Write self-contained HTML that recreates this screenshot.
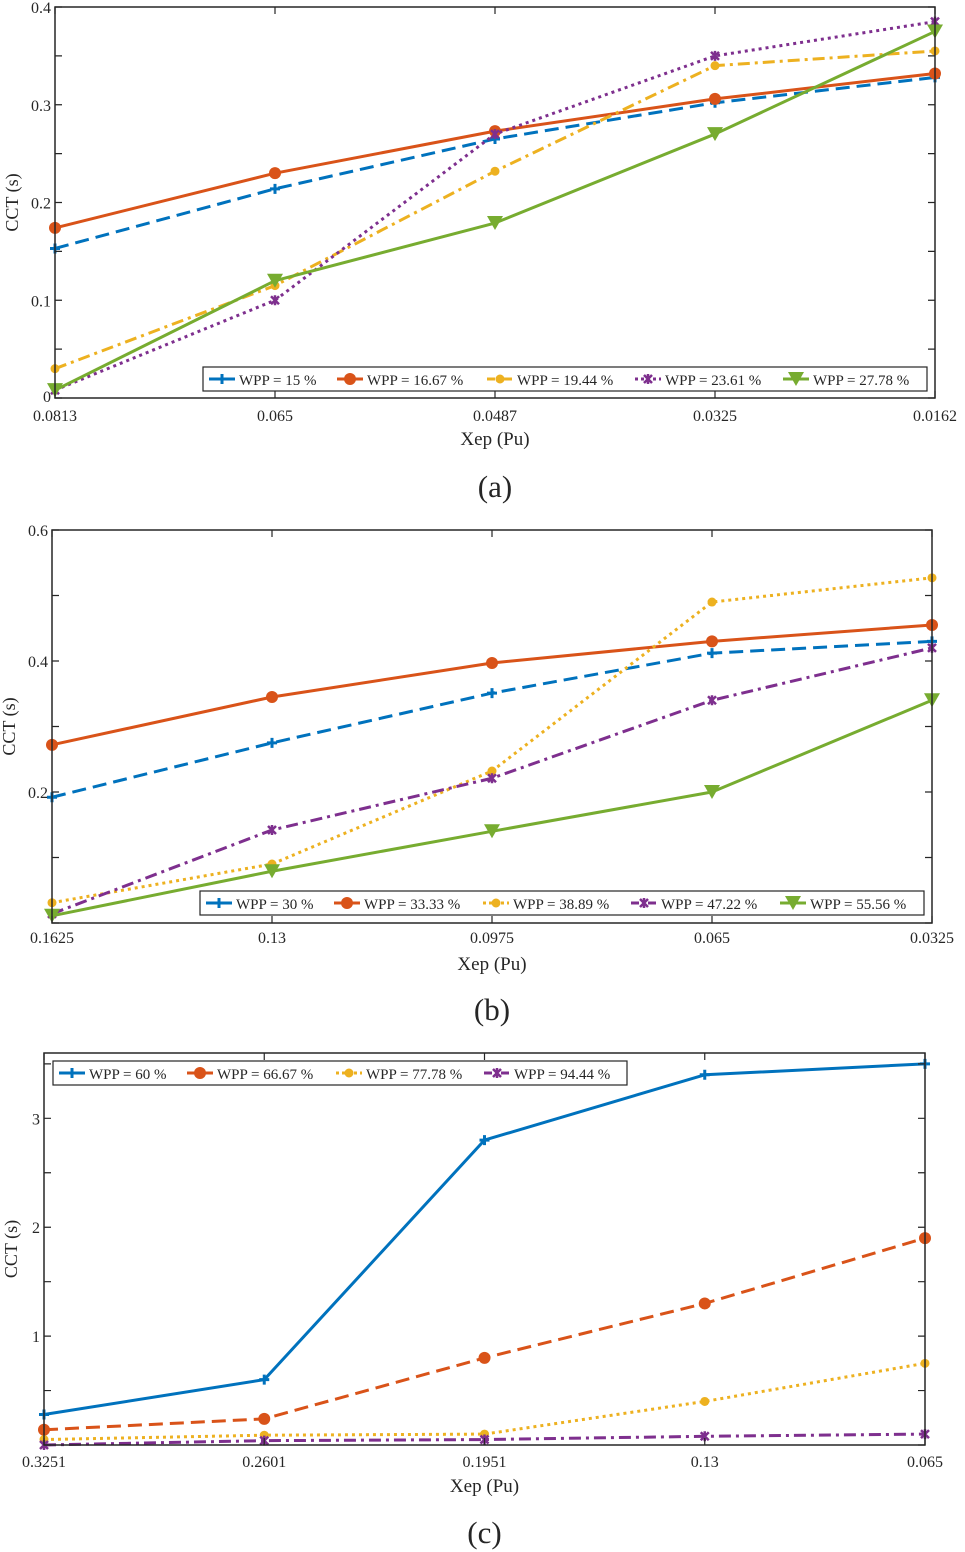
<!DOCTYPE html>
<html><head><meta charset="utf-8">
<style>
html,body{margin:0;padding:0;background:#fff;}
svg{display:block;}
text{font-family:"Liberation Serif",serif;fill:#262626;}
</style></head>
<body>
<svg id="fig" width="965" height="1552" viewBox="0 0 965 1552" xmlns="http://www.w3.org/2000/svg"></svg>
<script>
// Panel (a)
const catsA = ["0.0813","0.065","0.0487","0.0325","0.0162"];
const wpp15 = [0.153,0.214,0.265,0.302,0.328];
const wpp1667 = [0.174,0.230,0.273,0.306,0.332];
const wpp1944 = [0.030,0.115,0.232,0.340,0.355];
const wpp2361 = [0.008,0.100,0.270,0.350,0.385];
const wpp2778 = [0.008,0.120,0.179,0.270,0.375];
const yTicksA = ["0","0.1","0.2","0.3","0.4"];
// Panel (b)
const catsB = ["0.1625","0.13","0.0975","0.065","0.0325"];
const wpp30 = [0.192,0.275,0.351,0.412,0.430];
const wpp3333 = [0.272,0.345,0.397,0.430,0.455];
const wpp3889 = [0.031,0.090,0.232,0.490,0.527];
const wpp4722 = [0.014,0.142,0.221,0.340,0.420];
const wpp5556 = [0.011,0.079,0.140,0.200,0.340];
const yTicksB = ["0.2","0.4","0.6"];
// Panel (c)
const catsC = ["0.3251","0.2601","0.1951","0.13","0.065"];
const wpp60 = [0.28,0.60,2.80,3.40,3.50];
const wpp6667 = [0.14,0.24,0.80,1.30,1.90];
const wpp7778 = [0.05,0.09,0.10,0.40,0.75];
const wpp9444 = [0.00,0.04,0.05,0.08,0.10];
const yTicksC = ["1","2","3"];

const NS="http://www.w3.org/2000/svg";
const svg=document.getElementById('fig');
function mk(tag,attrs,parent){const e=document.createElementNS(NS,tag);for(const k in attrs)e.setAttribute(k,attrs[k]);(parent||svg).appendChild(e);return e;}
const C={blue:"#0072BD",orange:"#D95319",yellow:"#EDB120",purple:"#7E2F8E",green:"#77AC30"};
const DASH={solid:"",dash:"14,7",dot:"3,4",dashdot:"12,5,3,5"};

function marker(g,type,x,y,col){
  let m;
  if(type==='+'){m=mk('path',{d:`M${x-5},${y}H${x+5}M${x},${y-5}V${y+5}`,stroke:col,'stroke-width':3},g);}
  else if(type==='o'){m=mk('circle',{cx:x,cy:y,r:6,fill:col},g);}
  else if(type==='.'){m=mk('circle',{cx:x,cy:y,r:4.5,fill:col},g);}
  else if(type==='x'){m=mk('path',{d:`M${x-4},${y-4}L${x+4},${y+4}M${x+4},${y-4}L${x-4},${y+4}M${x},${y-5}V${y+5}`,stroke:col,'stroke-width':2.5},g);}
  else if(type==='v'){m=mk('path',{d:`M${x-8},${y-7}L${x+8},${y-7}L${x},${y+7}Z`,fill:col},g);}
  
  
}

function panel(p){
  const g=mk('g',{});
  
  
  const {L,R,T,B,ymax}=p;
  const xs=i=>L+(R-L)*i/(p.cats.length-1);
  const ys=v=>B-(B-T)*v/ymax;
  // series
  p.series.forEach(s=>{
    const sg=mk('g',{},g);
    
    
    const pts=s.data.map((v,i)=>xs(i)+','+ys(v)).join(' ');
    const pl=mk('polyline',{points:pts,fill:'none',stroke:s.col,'stroke-width':3,'stroke-dasharray':DASH[s.ls],'stroke-linejoin':'round'},sg);
    
    
    s.data.forEach((v,i)=>marker(sg,s.mk,xs(i),ys(v),s.col));
  });
  // axes box
  const box=mk('rect',{x:L,y:T,width:R-L,height:B-T,fill:'none',stroke:'#262626','stroke-width':1.5},g);
  
  
  // y minor/major ticks
  for(let v=0;v<=ymax+1e-9;v+=p.ystep){
    const y=ys(v);
    mk('path',{d:`M${L},${y}h7M${R},${y}h-7`,stroke:'#262626','stroke-width':1.2},g);
  }
  p.yTicks.forEach(t=>{
    const tx=mk('text',{x:L-4,y:ys(parseFloat(t))+6,'text-anchor':'end','font-size':16},g);
    tx.textContent=t;
    
    
  });
  if(p.zeroLabel){const z=mk('text',{x:L-4,y:B+4,'text-anchor':'end','font-size':16},g);z.textContent='0';}
  p.cats.forEach((c,i)=>{
    const x=xs(i);
    mk('path',{d:`M${x},${B}v-7M${x},${T}v7`,stroke:'#262626','stroke-width':1.2},g);
    const tx=mk('text',{x:x,y:B+p.xlabOff,'text-anchor':'middle','font-size':16},g);
    tx.textContent=c;
    
    
  });
  const xt=mk('text',{x:(L+R)/2,y:B+47,'text-anchor':'middle','font-size':19},g);
  xt.textContent='Xep (Pu)';
  
  
  const yt=mk('text',{x:0,y:0,'text-anchor':'middle','font-size':18,transform:`translate(${p.ylabX},${(T+B)/2}) rotate(-90)`},g);
  yt.textContent='CCT (s)';
  
  
  const cap=mk('text',{x:(L+R)/2,y:p.capY,'text-anchor':'middle','font-size':31},g);
  cap.textContent=p.cap;
  
  
  // legend
  const lg=mk('g',{},g);
  
  
  const lb=p.legend;
  mk('rect',{x:lb.x,y:lb.y,width:lb.w,height:24,fill:'#fff',stroke:'#262626','stroke-width':1.2},lg);
  let cx=lb.x+6;
  p.series.forEach((s,k)=>{
    const e=mk('g',{},lg);
    
    
    mk('path',{d:`M${cx},${lb.y+12}h26`,stroke:s.col,'stroke-width':3,'stroke-dasharray':s.ls==='dot'?'3,3':(s.ls==='dashdot'?'8,3,3,3':'')},e);
    marker(e,s.mk,cx+13,lb.y+12,s.col);
    const t=mk('text',{x:cx+30,y:lb.y+18,'font-size':15},e);
    t.textContent=s.label;
    cx+=lb.step[k];
  });
}

panel({name:'panel-a',L:55,R:935,T:7,B:398,ymax:0.4,ystep:0.05,cats:catsA,yTicks:yTicksA.slice(1),zeroLabel:true,xlabOff:23,ylabX:18,capY:497,cap:'(a)',
  legend:{x:203,y:367,w:724,step:[128,150,148,148,150]},
  series:[
    {label:'WPP = 15 %',data:wpp15,col:C.blue,ls:'dash',mk:'+'},
    {label:'WPP = 16.67 %',data:wpp1667,col:C.orange,ls:'solid',mk:'o'},
    {label:'WPP = 19.44 %',data:wpp1944,col:C.yellow,ls:'dashdot',mk:'.'},
    {label:'WPP = 23.61 %',data:wpp2361,col:C.purple,ls:'dot',mk:'x'},
    {label:'WPP = 27.78 %',data:wpp2778,col:C.green,ls:'solid',mk:'v'}]});

panel({name:'panel-b',L:52,R:932,T:530,B:923,ymax:0.6,ystep:0.1,cats:catsB,yTicks:yTicksB,zeroLabel:false,xlabOff:20,ylabX:15,capY:1020,cap:'(b)',
  legend:{x:200,y:891,w:724,step:[128,149,148,149,150]},
  series:[
    {label:'WPP = 30 %',data:wpp30,col:C.blue,ls:'dash',mk:'+'},
    {label:'WPP = 33.33 %',data:wpp3333,col:C.orange,ls:'solid',mk:'o'},
    {label:'WPP = 38.89 %',data:wpp3889,col:C.yellow,ls:'dot',mk:'.'},
    {label:'WPP = 47.22 %',data:wpp4722,col:C.purple,ls:'dashdot',mk:'x'},
    {label:'WPP = 55.56 %',data:wpp5556,col:C.green,ls:'solid',mk:'v'}]});

panel({name:'panel-c',L:44,R:925,T:1053,B:1445,ymax:3.6,ystep:0.5,cats:catsC,yTicks:yTicksC,zeroLabel:false,xlabOff:22,ylabX:17,capY:1543,cap:'(c)',
  legend:{x:53,y:1061,w:574,step:[128,149,148,149]},
  series:[
    {label:'WPP = 60 %',data:wpp60,col:C.blue,ls:'solid',mk:'+'},
    {label:'WPP = 66.67 %',data:wpp6667,col:C.orange,ls:'dash',mk:'o'},
    {label:'WPP = 77.78 %',data:wpp7778,col:C.yellow,ls:'dot',mk:'.'},
    {label:'WPP = 94.44 %',data:wpp9444,col:C.purple,ls:'dashdot',mk:'x'}]});
</script>
</body></html>
